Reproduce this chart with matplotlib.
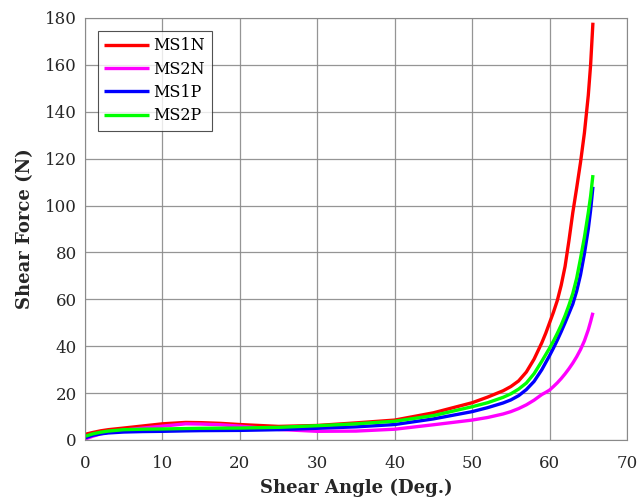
import matplotlib
matplotlib.use("Agg")
import matplotlib.pyplot as plt
import numpy as np

# shear angle (deg) sample points
angle = [0, 1, 2, 3, 5, 7.5, 10, 13, 15, 17.5, 20, 22.5, 25, 30, 35, 40, 45, 50,
         52, 54, 55, 56, 57, 58, 59, 59.5, 60, 60.5, 61, 61.5, 62, 62.5, 63,
         63.5, 64, 64.5, 65, 65.3, 65.6]

ms1n = [2.4, 3.2, 3.9, 4.4, 5.1, 6.0, 6.9, 7.5, 7.4, 7.1, 6.6, 6.2, 5.8, 6.2, 7.3,
        8.5, 11.6, 15.9, 18.3, 21.0, 22.8, 25.2, 29.0, 34.5, 41.5, 45.5, 50.0,
        54.5, 59.5, 66.0, 74.0, 85.0, 97.0, 107.5, 118.5, 131.0, 147.0, 160.0,
        178.0]
ms2n = [0.4, 1.6, 2.6, 3.3, 4.2, 5.1, 5.9, 6.9, 6.8, 6.5, 5.9, 5.2, 4.5, 3.7, 3.8,
        4.6, 6.5, 8.5, 9.6, 11.1, 12.1, 13.4, 15.0, 17.0, 19.4, 20.3, 21.3,
        22.8, 24.4, 26.2, 28.2, 30.4, 32.8, 35.5, 38.6, 42.3, 47.0, 50.5, 54.3]
ms1p = [0.9, 2.0, 2.6, 3.0, 3.4, 3.6, 3.7, 3.9, 4.0, 4.05, 4.1, 4.25, 4.4, 5.0, 5.6,
        6.6, 9.0, 12.1, 13.8, 15.8, 17.1, 18.9, 21.5, 25.0, 30.0, 33.0, 36.0,
        39.2, 42.6, 46.2, 50.0, 54.0, 58.0, 63.5, 70.5, 79.5, 90.0, 98.0, 108.0]
ms2p = [1.6, 2.6, 3.3, 3.8, 4.4, 4.6, 4.7, 4.9, 5.0, 5.05, 5.1, 5.25, 5.4, 6.1, 6.9,
        8.0, 10.4, 14.2, 15.9, 18.2, 19.7, 21.7, 24.3, 28.3, 33.6, 36.4, 39.2,
        42.2, 45.5, 49.0, 53.0, 57.5, 62.5, 69.0, 77.5, 86.5, 97.0, 104.0, 113.0]

series = [("MS1N", ms1n, (1, 0, 0)),
          ("MS2N", ms2n, (1, 0, 1)),
          ("MS1P", ms1p, (0, 0, 1)),
          ("MS2P", ms2p, (0, 1, 0))]

plt.rcParams["font.family"] = ["DejaVu Serif"]

fig = plt.figure(figsize=(6.39, 5.01), dpi=100)
ax = fig.add_axes([85 / 639, 61 / 501, 542 / 639, 422 / 501])

for name, vals, col in series:
    ax.plot(angle, vals, color=col, lw=2.4, label=name, solid_capstyle="butt")

ax.set_xlim(0, 70)
ax.set_ylim(0, 180)
ax.set_xticks(np.arange(0, 71, 10))
ax.set_yticks(np.arange(0, 181, 20))
ax.grid(True, color="#8a8a8a", lw=0.9, alpha=0.9)
ax.set_axisbelow(True)
ax.tick_params(labelsize=12, colors="#262626", length=0, pad=6)
ax.tick_params(axis="x", pad=11)
for s in ax.spines.values():
    s.set_color("#8a8a8a")

ax.set_xlabel("Shear Angle (Deg.)", fontsize=13, fontweight="bold", color="#262626", labelpad=5)
ax.set_ylabel("Shear Force (N)", fontsize=13, fontweight="bold", color="#262626", labelpad=8)

leg = ax.legend(loc="upper left", fontsize=11.5, frameon=True, fancybox=False,
                edgecolor="#262626", handlelength=2.8, handletextpad=0.3,
                borderaxespad=0.8, labelspacing=0.4, borderpad=0.4)
leg.get_frame().set_linewidth(0.8)

fig.savefig("out.png", dpi=100)
